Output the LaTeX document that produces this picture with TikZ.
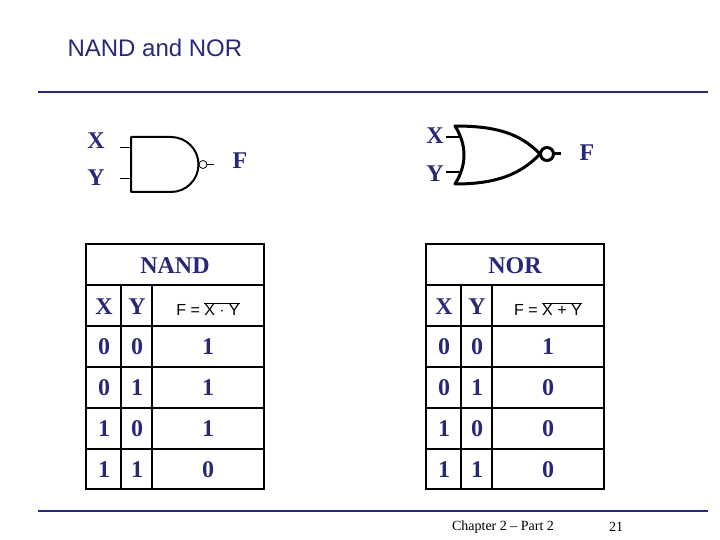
\documentclass[tikz,border=0pt]{standalone}
\usepackage{fontspec}
\setmainfont{Liberation Serif}
\newfontfamily\arialfont{Liberation Sans}
\definecolor{navy}{RGB}{40,40,120}
\begin{document}
\begin{tikzpicture}[x=1pt,y=-1pt,
  lbl/.style={text=navy,font=\bfseries\fontsize{24}{24}\selectfont,inner sep=0},
  gate/.style={line width=2pt,line join=round},
  rule/.style={navy,line width=2.5pt}]

\useasboundingbox (0,0) rectangle (720,540);

% Title and rules
\node[anchor=west,text=navy,font=\arialfont\fontsize{24}{24}\selectfont] (title) at (64,48) {NAND and NOR};
\draw[rule] (38,92) -- (708,92);
\draw[rule] (38,511) -- (708,511);
\node[font=\fontsize{14}{14}\selectfont] (chap) at (503,527) {Chapter 2 -- Part 2};
\node[font=\fontsize{14}{14}\selectfont] (page) at (616,527) {21};

% NAND gate
\draw[gate] (131,137) -- (171,137) arc (-90:90:27.5) -- (131,192) -- cycle;
\draw[thick] (203,164.5) circle (4);
\draw[thick] (207,164.5) -- (214,164.5);
\draw[thick] (120,147) -- (131,147);
\draw[thick] (120,178) -- (131,178);
\node[lbl] (nx) at (96,141) {X};
\node[lbl] (ny) at (96,178) {Y};
\node[lbl] (nf) at (240,161) {F};

% NOR gate
\draw[line width=3pt,line join=round] (455,126) .. controls (467,145) and (467,165) .. (455,184)
  .. controls (495,184) and (520,175) .. (540,154)
  .. controls (520,133) and (495,126) .. (455,126) -- cycle;
\draw[line width=3pt] (547,154) circle (6.5);
\draw[line width=3pt] (553.5,154) -- (561,154);
\draw[line width=2pt] (446,137) -- (462,137);
\draw[line width=2pt] (446,172) -- (462,172);
\node[lbl] (rx) at (435,136) {X};
\node[lbl] (ry) at (435,174) {Y};
\node[lbl] (rf) at (587,153) {F};

% Truth tables
\foreach \x/\c/\name/\op/\va/\vb/\vc/\vd in {86/121/NAND/$\cdot$/1/1/1/0,426/461/NOR/+/1/0/0/0} {
  \draw[line width=2.5pt] (\x,244) rectangle (\x+178,489);
  \foreach \y in {285,326,367,408,449} \draw[line width=1.5pt] (\x,\y) -- (\x+178,\y);
  \draw[line width=1.5pt] (\c,285) -- (\c,489);
  \draw[line width=1.5pt] (\c+31,285) -- (\c+31,489);
  \node[lbl] at (\x+89,266) {\name};
  \node[lbl] at (\x+18,307) {X};
  \node[lbl] at (\x+51,307) {Y};
  \node[font=\arialfont\fontsize{16}{16}\selectfont] at (\x+122,309)
    {F = $\overline{\mbox{\arialfont X \op{} Y}}$};
  \foreach \a/\b/\f [count=\i] in {0/0/\va,0/1/\vb,1/0/\vc,1/1/\vd} {
    \node[lbl] at (\x+18,306+41*\i) {\a};
    \node[lbl] at (\x+51,306+41*\i) {\b};
    \node[lbl] at (\x+122,306+41*\i) {\f};
  }
}
\end{tikzpicture}
\end{document}
